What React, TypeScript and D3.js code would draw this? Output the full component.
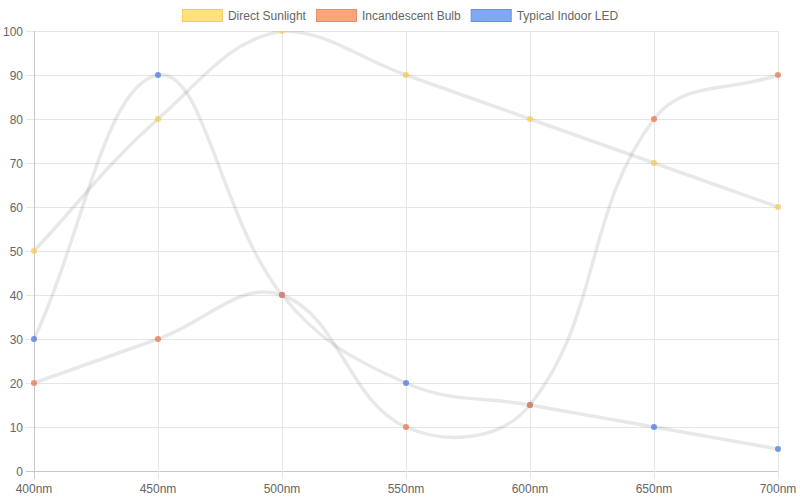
import React, { useEffect, useRef } from 'react';
import * as d3 from 'd3';

// Chart data
const wavelengths = ['400nm', '450nm', '500nm', '550nm', '600nm', '650nm', '700nm'];
const directSunlight = [50, 80, 100, 90, 80, 70, 60];
const incandescentBulb = [20, 30, 40, 10, 15, 80, 90];
const typicalIndoorLed = [30, 90, 40, 20, 15, 10, 5];
const yTicks = [0, 10, 20, 30, 40, 50, 60, 70, 80, 90, 100];
const seriesNames = ['Direct Sunlight', 'Incandescent Bulb', 'Typical Indoor LED'];

interface Series {
  name: string;
  values: number[];
  point: string;
  box: string;
  boxBorder: string;
}

const series: Series[] = [
  { name: seriesNames[0], values: directSunlight, point: '#f2d062', box: '#ffe27e', boxBorder: '#efcd66' },
  { name: seriesNames[1], values: incandescentBulb, point: '#e8845c', box: '#fba47e', boxBorder: '#ea8c66' },
  { name: seriesNames[2], values: typicalIndoorLed, point: '#5a88e4', box: '#80a8f4', boxBorder: '#6690e4' },
];

const FONT = '"Liberation Sans", Arial, Helvetica, sans-serif';

type Pt = [number, number];

// Chart.js-style spline (tension 0.4) with control points capped to the chart area
function splinePath(pts: Pt[], t: number, area: { left: number; right: number; top: number; bottom: number }) {
  const cap = (v: number, lo: number, hi: number) => Math.max(lo, Math.min(hi, v));
  const cps = pts.map((p, i) => {
    const prev = pts[i - 1] || p;
    const next = pts[i + 1] || p;
    const d01 = Math.hypot(p[0] - prev[0], p[1] - prev[1]);
    const d12 = Math.hypot(next[0] - p[0], next[1] - p[1]);
    let s01 = d01 / (d01 + d12);
    let s12 = d12 / (d01 + d12);
    if (!isFinite(s01)) s01 = 0;
    if (!isFinite(s12)) s12 = 0;
    const fa = t * s01;
    const fb = t * s12;
    const cp1: Pt = [p[0] - fa * (next[0] - prev[0]), p[1] - fa * (next[1] - prev[1])];
    const cp2: Pt = [p[0] + fb * (next[0] - prev[0]), p[1] + fb * (next[1] - prev[1])];
    [cp1, cp2].forEach(c => {
      c[0] = cap(c[0], area.left, area.right);
      c[1] = cap(c[1], area.top, area.bottom);
    });
    return { cp1, cp2 };
  });
  const path = d3.path();
  path.moveTo(pts[0][0], pts[0][1]);
  for (let i = 1; i < pts.length; i++) {
    path.bezierCurveTo(cps[i - 1].cp2[0], cps[i - 1].cp2[1], cps[i].cp1[0], cps[i].cp1[1], pts[i][0], pts[i][1]);
  }
  return path.toString();
}

const SpectrumChart = () => {
  const svgRef = useRef<SVGSVGElement | null>(null);

  useEffect(() => {
    if (!svgRef.current) return;
    document.body.style.margin = '0';

    const width = 800;
    const height = 500;
    const svg = d3.select(svgRef.current);
    svg.selectAll('*').remove();
    svg.attr('width', width).attr('height', height);

    const area = { left: 34, right: 778, top: 31, bottom: 471 };

    const xScale = d3.scalePoint<string>()
      .domain(wavelengths)
      .range([area.left, area.right]);

    const yScale = d3.scaleLinear()
      .domain([0, 100])
      .range([area.bottom, area.top]);

    const defs = svg.append('defs');
    defs.append('clipPath')
      .attr('id', 'plot-clip')
      .append('rect')
      .attr('x', area.left - 10)
      .attr('y', area.top)
      .attr('width', area.right - area.left + 20)
      .attr('height', area.bottom - area.top);
    defs.append('filter')
      .attr('id', 'soft')
      .attr('x', '-5%').attr('y', '-5%').attr('width', '110%').attr('height', '110%')
      .append('feGaussianBlur')
      .attr('stdDeviation', 0.6);

    // Grid lines
    const grid = svg.append('g');
    grid.selectAll('.hgrid')
      .data(yTicks)
      .enter()
      .append('line')
      .attr('x1', area.left - 8)
      .attr('x2', area.right)
      .attr('y1', d => yScale(d) + 0.5)
      .attr('y2', d => yScale(d) + 0.5)
      .attr('stroke', d => (d === 0 ? '#c8c8c8' : '#e6e6e6'))
      .attr('stroke-width', 1);

    grid.selectAll('.vgrid')
      .data(wavelengths)
      .enter()
      .append('line')
      .attr('x1', d => (xScale(d) as number) + 0.5)
      .attr('x2', d => (xScale(d) as number) + 0.5)
      .attr('y1', area.top)
      .attr('y2', area.bottom + 8)
      .attr('stroke', (d, i) => (i === 0 ? '#c8c8c8' : '#e6e6e6'))
      .attr('stroke-width', 1);

    // Y tick labels
    svg.append('g')
      .selectAll('text')
      .data(yTicks)
      .enter()
      .append('text')
      .attr('x', area.left - 11)
      .attr('y', d => yScale(d) + 4.5)
      .attr('text-anchor', 'end')
      .attr('font-family', FONT)
      .attr('font-size', 12)
      .attr('fill', '#666')
      .text(d => d);

    // X tick labels
    svg.append('g')
      .selectAll('text')
      .data(wavelengths)
      .enter()
      .append('text')
      .attr('x', d => xScale(d) as number)
      .attr('y', area.bottom + 22)
      .attr('text-anchor', 'middle')
      .attr('font-family', FONT)
      .attr('font-size', 12)
      .attr('fill', '#666')
      .text(d => d);

    // Lines and points (last series drawn first, like Chart.js)
    const plot = svg.append('g').attr('clip-path', 'url(#plot-clip)');
    const drawOrder = [...series].reverse();

    drawOrder.forEach(s => {
      const pts: Pt[] = s.values.map((v, i) => [xScale(wavelengths[i]) as number, yScale(v)]);
      plot.append('path')
        .attr('d', splinePath(pts, 0.4, area))
        .attr('fill', 'none')
        .attr('stroke', '#000')
        .attr('stroke-opacity', 0.09)
        .attr('stroke-width', 3.5)
        .attr('filter', 'url(#soft)');
    });

    drawOrder.forEach(s => {
      plot.selectAll(null)
        .data(s.values)
        .enter()
        .append('circle')
        .attr('cx', (d, i) => xScale(wavelengths[i]) as number)
        .attr('cy', d => yScale(d))
        .attr('r', 3)
        .attr('fill', s.point)
        .attr('fill-opacity', 0.85);
    });

    // Legend
    const legend = svg.append('g');
    const boxW = 40;
    const boxH = 12;
    const gap = 10;
    const items = series.map(s => {
      const g = legend.append('g');
      g.append('rect')
        .attr('x', 0.5)
        .attr('y', 0.5)
        .attr('width', boxW)
        .attr('height', boxH)
        .attr('fill', s.box)
        .attr('stroke', s.boxBorder)
        .attr('stroke-width', 1);
      const txt = g.append('text')
        .attr('x', boxW + 6)
        .attr('y', boxH - 1)
        .attr('font-family', FONT)
        .attr('font-size', 12)
        .attr('fill', '#666')
        .text(s.name);
      const tw = (txt.node() as SVGTextElement).getComputedTextLength();
      return { g, w: boxW + 6 + tw };
    });
    const total = d3.sum(items, d => d.w) + gap * (items.length - 1);
    let cx = (width - total) / 2;
    items.forEach(it => {
      it.g.attr('transform', `translate(${cx}, 9)`);
      cx += it.w + gap;
    });
  }, []);

  return (
    <div style={{ width: 800, height: 500 }}>
      <svg ref={svgRef} style={{ display: 'block' }}></svg>
    </div>
  );
};

export default function App() {
  return <SpectrumChart />;
}
